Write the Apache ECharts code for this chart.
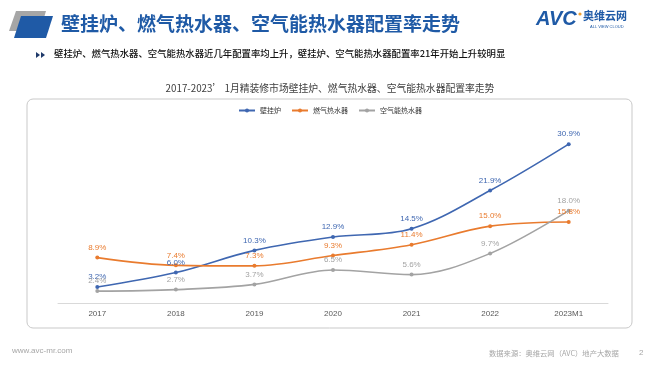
<!DOCTYPE html>
<html>
<head>
<meta charset="utf-8">
<script src="https://cdn.jsdelivr.net/npm/echarts@6/dist/echarts.min.js"></script>
<style>
html,body{margin:0;padding:0;background:#fff;}
#c{width:660px;height:372px;}
</style>
</head>
<body>
<div id="c"></div>
<script>
var categories = ['2017', '2018', '2019', '2020', '2021', '2022', '2023M1'];
var seriesNames = ['壁挂炉', '燃气热水器', '空气能热水器'];
var wallBoiler = [3.2, 6.0, 10.3, 12.9, 14.5, 21.9, 30.9];
var gasHeater = [8.9, 7.4, 7.3, 9.3, 11.4, 15.0, 15.8];
var airHeater = [2.4, 2.7, 3.7, 6.5, 5.6, 9.7, 18.0];
var colors = ['#3F67B1', '#E97B2E', '#A3A3A3'];

var cjk = '"Noto Sans CJK SC", "Noto Sans", sans-serif';
var chart = echarts.init(document.getElementById('c'));

function mk(name, data, color) {
  return {
    name: name,
    type: 'line',
    data: data,
    smooth: 0.35,
    symbol: 'circle',
    symbolSize: 4,
    lineStyle: { color: color, width: 1.6 },
    itemStyle: { color: color },
    label: {
      show: true,
      position: 'top',
      distance: 4,
      color: color,
      fontSize: 8,
      fontFamily: '"Liberation Sans", Arial, sans-serif',
      formatter: function (p) { return p.value.toFixed(1) + '%'; }
    }
  };
}

var option = {
  animation: false,
  backgroundColor: '#ffffff',
  legend: {
    top: 102,
    left: 'center',
    itemWidth: 16,
    itemHeight: 5,
    itemGap: 10,
    textStyle: { fontSize: 7, color: '#333', fontFamily: cjk },
    data: seriesNames
  },
  grid: { left: 58, right: 52, top: 123, bottom: 68.5 },
  xAxis: {
    type: 'category',
    data: categories,
    boundaryGap: true,
    axisLine: { lineStyle: { color: '#D9D9D9' } },
    axisTick: { show: false },
    axisLabel: { color: '#595959', fontSize: 8, margin: 6, fontFamily: '"Liberation Sans", Arial, sans-serif' }
  },
  yAxis: {
    type: 'value',
    min: 0,
    max: 35,
    show: false,
    splitLine: { show: false }
  },
  series: [
    mk(seriesNames[0], wallBoiler, colors[0]),
    mk(seriesNames[1], gasHeater, colors[1]),
    mk(seriesNames[2], airHeater, colors[2])
  ],
  graphic: [
    { type: 'polygon', shape: { points: [[16,11],[46,11],[40,31],[9,31]] }, style: { fill: '#A6A6A6' } },
    { type: 'polygon', shape: { points: [[21,16],[53,16],[46,38],[14,38]] }, style: { fill: '#1F5AA6' } },
    { type: 'text', left: 61, top: 14, style: { text: '壁挂炉、燃气热水器、空气能热水器配置率走势', fill: '#1F5AA6', font: 'bold 19px "Noto Sans CJK SC", sans-serif' } },
    { type: 'text', left: 536, top: 9, style: { text: 'AVC', fill: '#1F5AA6', font: 'italic bold 20px "Liberation Sans", Arial, sans-serif' } },
    { type: 'circle', shape: { cx: 580, cy: 14, r: 1.6 }, style: { fill: '#F0A030' } },
    { type: 'text', left: 583, top: 10, style: { text: '奥维云网', fill: '#1F5AA6', font: 'bold 11px "Noto Sans CJK SC", sans-serif' } },
    { type: 'text', left: 590, top: 25, style: { text: 'ALL VIEW CLOUD', fill: '#1F5AA6', font: '4px "Liberation Sans", Arial, sans-serif' } },
    { type: 'polygon', shape: { points: [[36,52],[40,55],[36,58]] }, style: { fill: '#1F3A6A' } },
    { type: 'polygon', shape: { points: [[41,52],[45,55],[41,58]] }, style: { fill: '#1F3A6A' } },
    { type: 'text', left: 54, top: 49, style: { text: '壁挂炉、燃气热水器、空气能热水器近几年配置率均上升，壁挂炉、空气能热水器配置率21年开始上升较明显', fill: '#111111', font: '500 9.4px "Noto Sans CJK SC", sans-serif' } },
    { type: 'text', x: 330, y: 88, style: { text: '2017-2023’ 1月精装修市场壁挂炉、燃气热水器、空气能热水器配置率走势', fill: '#404040', font: '9.8px "Noto Sans CJK SC", sans-serif', align: 'center', verticalAlign: 'middle' } },
    { type: 'rect', shape: { x: 27, y: 99, width: 605, height: 229, r: 6 }, style: { fill: 'none', stroke: '#C9C9C9', lineWidth: 1 }, z: -1 },
    { type: 'text', left: 12, top: 347, style: { text: 'www.avc-mr.com', fill: '#A6A6A6', font: '8px "Liberation Sans", Arial, sans-serif' } },
    { type: 'text', left: 489, top: 350, style: { text: '数据来源：奥维云网（AVC）地产大数据', fill: '#A6A6A6', font: '7.3px "Noto Sans CJK SC", sans-serif' } },
    { type: 'text', left: 639, top: 349, style: { text: '2', fill: '#A6A6A6', font: '8px "Liberation Sans", Arial, sans-serif' } }
  ]
};
chart.setOption(option);
</script>
</body>
</html>
